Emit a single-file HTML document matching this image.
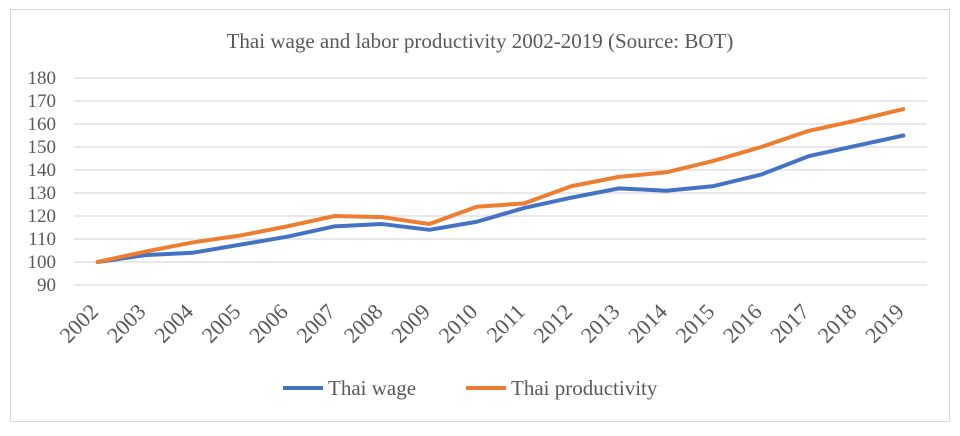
<!DOCTYPE html>
<html><head><meta charset="utf-8"><style>
body{margin:0;background:#fff;}
svg text{font-family:"Liberation Serif",serif;fill:#595959;}
</style></head><body>
<svg width="960" height="431">
<rect x="10.5" y="9.5" width="939" height="412" fill="#fff" stroke="#d9d9d9"/>
<text x="480" y="48" text-anchor="middle" font-size="21">Thai wage and labor productivity 2002-2019 (Source: BOT)</text>
<g id="grid"></g><g id="ylab"></g><g id="xlab"></g><g id="lines"></g>
<g>
<line x1="283" y1="388" x2="323" y2="388" stroke="#4472c4" stroke-width="4"/>
<text x="328" y="395" font-size="21">Thai wage</text>
<line x1="466" y1="388" x2="506" y2="388" stroke="#ed7d31" stroke-width="4"/>
<text x="511" y="395" font-size="21">Thai productivity</text>
</g>
</svg>
<script>
const years=[2002,2003,2004,2005,2006,2007,2008,2009,2010,2011,2012,2013,2014,2015,2016,2017,2018,2019];
const wage=[100,103,104,107.5,111,115.5,116.5,114,117.5,123.5,128,132,131,133,138,146,150.5,155];
const productivity=[100,104.5,108.5,111.5,115.5,120,119.5,116.5,124,125.5,133,137,139,144,150,157,161.5,166.5];
const yTicks=[90,100,110,120,130,140,150,160,170,180];
const NS='http://www.w3.org/2000/svg';
const plotLeft=74,plotRight=927,plotTop=78,plotBottom=285,yMin=90,yMax=180;
const step=(plotRight-plotLeft)/years.length;
function X(i){return plotLeft+step*(i+0.5);}
function Y(v){return plotBottom-(v-yMin)/(yMax-yMin)*(plotBottom-plotTop);}
function mk(t,a,p){const e=document.createElementNS(NS,t);for(const k in a)e.setAttribute(k,a[k]);p.appendChild(e);return e;}
const grid=document.getElementById('grid'),yl=document.getElementById('ylab'),xl=document.getElementById('xlab'),ln=document.getElementById('lines');
yTicks.forEach(v=>{
 const g=mk('line',{x1:plotLeft,x2:plotRight,y1:Y(v),y2:Y(v),stroke:'#d9d9d9','stroke-width':1.3},grid);
 
 
 const t=mk('text',{x:56,y:Y(v)+6,'text-anchor':'end','font-size':19},yl);
 t.textContent=v;
 
 
});
years.forEach((yr,i)=>{
 const ax=X(i)+2, ay=313;
 const t=mk('text',{x:ax,y:ay,'text-anchor':'end','font-size':22,transform:'rotate(-45 '+ax+' '+ay+')'},xl);
 t.textContent=yr;
 
 
});
function drawLine(arr,color,name){
 const p=mk('polyline',{points:arr.map((v,i)=>X(i)+','+Y(v)).join(' '),fill:'none',stroke:color,'stroke-width':4,'stroke-linejoin':'round','stroke-linecap':'round'},ln);
 
 
}
drawLine(wage,'#4472c4','thai-wage-line');
drawLine(productivity,'#ed7d31','thai-productivity-line');
</script>
</body></html>
